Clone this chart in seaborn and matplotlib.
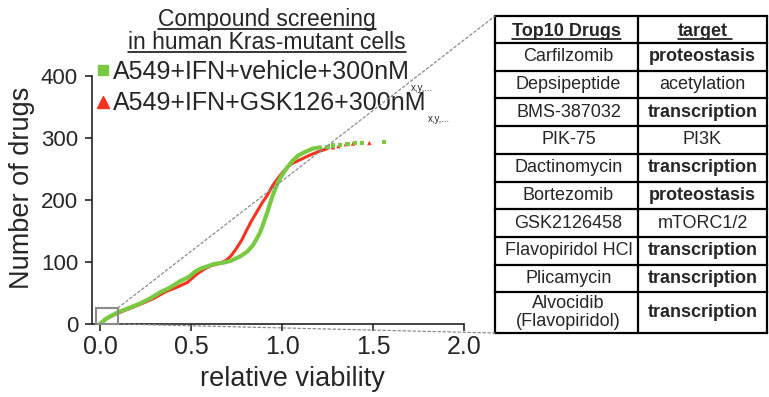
import matplotlib
matplotlib.use("Agg")
import matplotlib.pyplot as plt
from matplotlib.lines import Line2D
from matplotlib.patches import Rectangle, ConnectionPatch
import seaborn as sns
import pandas as pd

# ---- values ----
# vehicle (green): sorted relative viability vs cumulative number of drugs
green_via = [0.00, 0.03, 0.06, 0.10, 0.16, 0.22, 0.28, 0.33, 0.38, 0.44, 0.49,
             0.52, 0.55, 0.60, 0.63, 0.68, 0.72, 0.77, 0.81, 0.84, 0.86, 0.88,
             0.90, 0.92, 0.94, 0.96, 0.98, 1.00, 1.03, 1.06, 1.09, 1.13, 1.17, 1.21]
green_n = [0, 8, 13, 19, 26, 33, 42, 51, 58, 69, 76,
           84, 89, 94, 97, 99, 102, 109, 117, 127, 137, 148,
           164, 181, 200, 216, 230, 240, 253, 264, 272, 278, 283, 285]
green_tail_via = [1.25, 1.28, 1.32, 1.36, 1.40, 1.44, 1.56]
green_tail_n = [286, 288, 289, 290, 292, 292, 293]

# GSK126 (red)
red_via = [0.00, 0.04, 0.08, 0.12, 0.18, 0.24, 0.30, 0.36, 0.42, 0.48, 0.53,
           0.57, 0.61, 0.65, 0.69, 0.72, 0.75, 0.78, 0.80, 0.83, 0.86, 0.89,
           0.92, 0.95, 0.98, 1.01, 1.05, 1.10, 1.15, 1.20, 1.25]
red_n = [0, 9, 15, 20, 27, 34, 42, 52, 59, 67, 80,
         88, 94, 97, 102, 110, 122, 136, 148, 165, 180, 195,
         208, 224, 236, 247, 258, 265, 272, 278, 283]
red_tail_via = [1.28, 1.31, 1.35, 1.39, 1.48]
red_tail_n = [285, 287, 290, 291, 292]

legend_labels = ["A549+IFN+vehicle+300nM", "A549+IFN+GSK126+300nM"]
legend_sub = "x,y,..."
title_lines = ["Compound screening", "in human Kras-mutant cells"]

table_header = ["Top10 Drugs", "target"]
drugs = ["Carfilzomib", "Depsipeptide", "BMS-387032", "PIK-75", "Dactinomycin",
         "Bortezomib", "GSK2126458", "Flavopiridol HCl", "Plicamycin",
         "Alvocidib\n(Flavopiridol)"]
targets = ["proteostasis", "acetylation", "transcription", "PI3K", "transcription",
           "proteostasis", "mTORC1/2", "transcription", "transcription",
           "transcription"]
target_bold = [True, False, True, False, True, True, False, True, True, True]

GREEN = "#7ac943"
RED = "#f5331f"
GREY = "#8a8a8a"

sns.set_style("ticks")
plt.rcParams["font.family"] = ["Liberation Sans", "DejaVu Sans"]

W, H = 769, 397
fig = plt.figure(figsize=(W / 100, H / 100), dpi=100)


def fx(px):
    return px / W


def fy(py):
    return 1 - py / H


# ---- curve panel ----
ax = fig.add_axes([fx(92), fy(324), fx(464) - fx(92), fy(76) - fy(324)])

df_red = pd.DataFrame({"viability": red_via, "drugs": red_n})
df_green = pd.DataFrame({"viability": green_via, "drugs": green_n})
sns.lineplot(data=df_red, x="viability", y="drugs", sort=False, estimator=None,
             color=RED, lw=2.2, ax=ax, zorder=3)
sns.lineplot(data=df_green, x="viability", y="drugs", sort=False, estimator=None,
             color=GREEN, lw=3, ax=ax, zorder=4)
sns.scatterplot(x=red_tail_via, y=red_tail_n, marker="^", s=10, color=RED,
                edgecolor="none", ax=ax, zorder=3)
sns.scatterplot(x=green_tail_via, y=green_tail_n, marker="s", s=9, color=GREEN,
                edgecolor="none", ax=ax, zorder=4)

ax.set_xlim(-0.044, 2.0)
ax.set_ylim(0, 400)
ax.set_xticks([0.0, 0.5, 1.0, 1.5, 2.0])
ax.set_xticklabels(["0.0", "0.5", "1.0", "1.5", "2.0"])
ax.set_yticks([0, 100, 200, 300, 400])
ax.tick_params(axis="x", labelsize=18, length=5, width=1.2, pad=3)
ax.tick_params(axis="y", labelsize=16, length=5, width=1.2, pad=5)
for s in ["left", "bottom"]:
    ax.spines[s].set_linewidth(1.2)
    ax.spines[s].set_color("#222222")
sns.despine(ax=ax)
ax.set_xlabel("relative viability", fontsize=19.5)
ax.set_ylabel("Number of drugs", fontsize=19.5)
ax.xaxis.set_label_coords((292 - 92) / (464 - 92), -(366 - 324) / 248)
ax.yaxis.set_label_coords(-(92 - 35) / (464 - 92), (324 - 188) / 248)

ax.add_patch(Rectangle((-0.022, 0), 0.121, 26, fill=False, ec=GREY, lw=1.5,
                       clip_on=False, zorder=5))

handles = [Line2D([], [], ls="none", marker="s", ms=7, color=GREEN),
           Line2D([], [], ls="none", marker="^", ms=8, color=RED)]
leg = ax.legend(handles, legend_labels, loc="upper left", frameon=False,
                bbox_to_anchor=(fx(95), fy(60)), bbox_transform=fig.transFigure,
                fontsize=18, borderpad=0, borderaxespad=0, handlelength=0.6,
                handletextpad=0.12, labelspacing=0.3)

# ---- table panel ----
tab = fig.add_axes([fx(495), fy(333), fx(767) - fx(495), fy(16) - fy(333)])
tab_w, tab_h = 272, 317
tab.set_xlim(0, tab_w)
tab.set_ylim(tab_h, 0)
tab.axis("off")
col_x = 143
row_h = [27] + [27.7] * 9 + [41]

edges = [0]
for h in row_h:
    edges.append(edges[-1] + h)
for yv in edges:
    tab.plot([0, tab_w], [yv, yv], color="black", lw=1.6, solid_capstyle="projecting",
             clip_on=False)
for xv in [0, col_x, tab_w]:
    tab.plot([xv, xv], [0, tab_h], color="black", lw=1.6, clip_on=False)

header_texts = []
for txt, xc in zip(table_header, [col_x / 2, (col_x + tab_w) / 2]):
    t = tab.text(xc, edges[0] + row_h[0] / 2 + 6.5, txt, ha="center", va="baseline",
                 fontsize=13, fontweight="bold")
    header_texts.append(t)

for i, (d, tg, b) in enumerate(zip(drugs, targets, target_bold)):
    yc = edges[i + 1] + row_h[i + 1] / 2
    tab.text(col_x / 2 + 2, yc, d, ha="center", va="center", fontsize=13,
             linespacing=1.05)
    tab.text((col_x + tab_w) / 2, yc, tg, ha="center", va="center", fontsize=13,
             fontweight="bold" if b else "normal")

# ---- title ----
title_texts = []
for txt, base in zip(title_lines, [26, 49]):
    t = fig.text(fx(267), fy(base), txt, ha="center", va="baseline", fontsize=16.5)
    title_texts.append(t)

# dotted zoom lines from the box to the table
for ya, yb in [(26, 0), (0, tab_h)]:
    con = ConnectionPatch(xyA=(0.099, ya), coordsA="data", axesA=ax,
                          xyB=(0, yb), coordsB="data", axesB=tab,
                          color=GREY, lw=0.9, ls=(0, (2, 2)))
    fig.add_artist(con)

# underlines and subscripts need the text extents
fig.canvas.draw()
inv = fig.transFigure.inverted()

for t in title_texts:
    bb = t.get_window_extent()
    _, yb = fig.transFigure.transform(t.get_position())
    (x0, y0), (x1, _) = inv.transform([(bb.x0, yb - 2.5), (bb.x1, yb)])
    fig.add_artist(Line2D([x0, x1], [y0, y0], color="black", lw=1.1))

tinv = tab.transData.inverted()
for t, extra in zip(header_texts, [0, 4]):
    bb = t.get_window_extent()
    (x0, _), (x1, _) = tinv.transform([(bb.x0, 0), (bb.x1 + extra, 0)])
    yb = t.get_position()[1] + 2.5
    tab.plot([x0, x1], [yb, yb], color="black", lw=1.1)

for t in leg.get_texts():
    bb = t.get_window_extent()
    x, y = inv.transform((bb.x1 + 1, bb.y0 - 7))
    fig.text(x, y, legend_sub, ha="left", va="baseline", fontsize=7)

fig.savefig("out.png", dpi=100)
